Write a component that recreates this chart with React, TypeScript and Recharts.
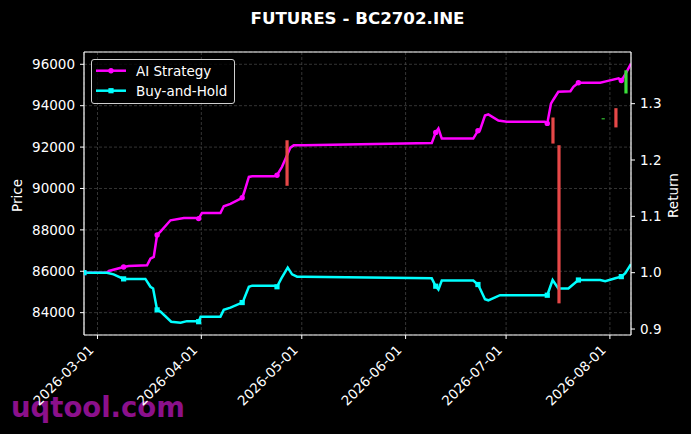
import React from 'react';
import { ComposedChart, Line, XAxis, YAxis, CartesianGrid, Legend, ReferenceLine } from 'recharts';

const FONT = '"DejaVu Sans", sans-serif';

// x values are days counted from 2026-03-01
const monthTickDays = [0, 31, 61, 92, 122, 153];
const monthTickLabels = ['2026-03-01', '2026-04-01', '2026-05-01', '2026-06-01', '2026-07-01', '2026-08-01'];
const xDomain = [-4.03, 159.3];

const priceTicks = [84000, 86000, 88000, 90000, 92000, 94000, 96000];
const priceDomain = [82921, 96594];
const returnTicks = [0.9, 1.0, 1.1, 1.2, 1.3];
const returnDomain = [0.8894, 1.3917];

const markDays = [-4.03, 7.8, 17.8, 30.2, 43.2, 53.6, 101.0, 113.6, 134.3, 143.6, 156.4];

const aiSeries: [number, number][] = [
  [-4.03, 1.0], [2.8, 1.0], [3.4, 1.003], [7.8, 1.01], [9.3, 1.012], [14.8, 1.013],
  [15.8, 1.025], [16.8, 1.028], [17.8, 1.067], [18.8, 1.073], [21.8, 1.093], [25.8, 1.097],
  [29.3, 1.097], [30.2, 1.096], [31.2, 1.106], [36.7, 1.106], [37.7, 1.118], [39.7, 1.122],
  [43.2, 1.133], [43.7, 1.141], [45.2, 1.17], [46.2, 1.171], [52.7, 1.171], [53.6, 1.173],
  [55.1, 1.188], [57.6, 1.222], [58.6, 1.226], [61.6, 1.226], [99.8, 1.23], [101.0, 1.249],
  [101.8, 1.256], [102.8, 1.238], [112.2, 1.238], [113.6, 1.252], [114.2, 1.253], [115.7, 1.279],
  [116.7, 1.281], [119.7, 1.27], [122.2, 1.268], [133.6, 1.268], [134.3, 1.265], [135.4, 1.3],
  [136.1, 1.307], [137.6, 1.321], [141.2, 1.322], [142.1, 1.33], [143.6, 1.337], [150.1, 1.337],
  [152.1, 1.34], [155.6, 1.345], [156.4, 1.341], [157.4, 1.35], [159.3, 1.371],
];

const bhSeries: [number, number][] = [
  [-4.03, 1.0], [2.8, 1.0], [4.8, 0.997], [7.8, 0.989], [8.8, 0.989], [14.3, 0.989],
  [15.8, 0.975], [16.6, 0.972], [17.8, 0.934], [18.8, 0.931], [22.0, 0.913], [24.8, 0.911],
  [26.7, 0.914], [29.6, 0.914], [30.2, 0.913], [30.8, 0.922], [36.7, 0.922], [37.7, 0.934],
  [39.7, 0.938], [43.2, 0.947], [43.6, 0.951], [45.2, 0.975], [46.2, 0.977], [52.7, 0.977],
  [53.6, 0.975], [54.9, 0.99], [56.8, 1.009], [58.1, 0.997], [59.6, 0.993], [61.6, 0.993],
  [99.8, 0.99], [101.0, 0.976], [101.8, 0.97], [102.8, 0.986], [112.2, 0.986], [113.6, 0.979],
  [114.2, 0.972], [115.7, 0.953], [116.7, 0.951], [120.2, 0.96], [122.2, 0.96], [134.3, 0.96],
  [135.9, 0.987], [137.6, 0.972], [140.6, 0.972], [143.6, 0.987], [150.1, 0.987], [151.6, 0.985],
  [154.6, 0.99], [156.4, 0.993], [157.6, 0.999], [159.3, 1.015],
];

// [day, open, close]
const candles: [number, number, number][] = [
  [56.6, 92330, 90130],
  [136.0, 93430, 92170],
  [137.8, 92090, 84450],
  [151.0, 93340, 93390],
  [154.8, 93880, 92950],
  [157.8, 94590, 95710],
];

const legendItems = [
  { name: 'AI Strategy', color: '#ff00ff', marker: 'circle' },
  { name: 'Buy-and-Hold', color: '#00ffff', marker: 'square' },
];

const AI_COLOR = '#ff00ff';
const BH_COLOR = '#00ffff';
const UP_COLOR = '#3be03b';
const DOWN_COLOR = '#e64848';

const aiData = aiSeries.map(([d, v]) => ({ d, v, m: markDays.includes(d) }));
const bhData = bhSeries.map(([d, v]) => ({ d, v, m: markDays.includes(d) }));
const candleData = candles.map(([d, o, c]) => ({
  color: c >= o ? UP_COLOR : DOWN_COLOR,
  pts: [{ d, p: o }, { d, p: c }],
}));

const aiDot = (p: any) =>
  p.payload && p.payload.m && p.cy != null ? (
    <circle key={`ai${p.index}`} cx={p.cx} cy={p.cy} r={2.7} fill={AI_COLOR} />
  ) : (
    <g key={`ai${p.index}`} />
  );

const bhDot = (p: any) =>
  p.payload && p.payload.m && p.cy != null ? (
    <rect key={`bh${p.index}`} x={p.cx - 2.6} y={p.cy - 2.6} width={5.2} height={5.2} fill={BH_COLOR} />
  ) : (
    <g key={`bh${p.index}`} />
  );

const XTick = (props: any) => {
  const { x, y, payload } = props;
  const i = monthTickDays.indexOf(payload.value);
  return (
    <text
      x={0}
      y={0}
      transform={`translate(${x - 3},${y + 10}) rotate(-45)`}
      textAnchor="end"
      fill="#ffffff"
      fontSize={13.5}
      fontFamily={FONT}
    >
      {i >= 0 ? monthTickLabels[i] : ''}
    </text>
  );
};

const axisTitle = (text: string, dx: number) => (props: any) => {
  const vb = props.viewBox || { x: 0, y: 0, width: 0, height: 0 };
  const cx = vb.x + dx;
  const cy = vb.y + vb.height / 2 + 2;
  return (
    <text
      x={cx}
      y={cy}
      transform={`rotate(-90, ${cx}, ${cy})`}
      textAnchor="middle"
      dominantBaseline="central"
      fill="#ffffff"
      fontSize={13.5}
      fontFamily={FONT}
    >
      {text}
    </text>
  );
};

const LegendBox = () => (
  <div
    style={{
      width: 144,
      height: 45,
      border: '1px solid #d0d0d0',
      borderRadius: 3,
      background: 'rgba(0,0,0,0.8)',
      boxSizing: 'border-box',
    }}
  >
    <svg width={142} height={43} style={{ display: 'block' }}>
      {legendItems.map((it, i) => {
        const y = 10.7 + i * 20;
        return (
          <g key={it.name}>
            <line x1={4} x2={34} y1={y} y2={y} stroke={it.color} strokeWidth={2.5} />
            {it.marker === 'circle' ? (
              <circle cx={19} cy={y} r={2.7} fill={it.color} />
            ) : (
              <rect x={16.4} y={y - 2.6} width={5.2} height={5.2} fill={it.color} />
            )}
            <text x={44} y={y} dy="0.36em" fill="#ffffff" fontSize={13.5} fontFamily={FONT}>
              {it.name}
            </text>
          </g>
        );
      })}
    </svg>
  </div>
);

export default function App() {
  return (
    <div
      style={{
        position: 'fixed',
        left: 0,
        top: 0,
        width: 691,
        height: 434,
        background: '#000000',
        fontFamily: FONT,
        overflow: 'hidden',
      }}
    >
      <svg width={691} height={434} style={{ position: 'absolute', left: 0, top: 0 }}>
        <text x={11} y={417} fontSize={27.5} fontWeight="bold" fill="#8b108b" fontFamily={FONT}>
          uqtool.com
        </text>
      </svg>
      <div style={{ position: 'absolute', left: 0, top: 0 }}>
        <ComposedChart width={691} height={434} margin={{ top: 52, right: 0, bottom: 0, left: 0 }}>
          <CartesianGrid
            yAxisId="price"
            stroke="#4a4a4a"
            strokeDasharray="3 2"
            strokeWidth={0.7}
            horizontalPoints={undefined}
          />
          <XAxis
            dataKey="d"
            type="number"
            domain={xDomain}
            ticks={monthTickDays}
            interval={0}
            height={99}
            tick={<XTick />}
            tickSize={4}
            stroke="#ffffff"
            axisLine={{ stroke: '#ffffff', strokeWidth: 1.2 }}
            tickLine={{ stroke: '#ffffff' }}
            allowDataOverflow
          />
          <YAxis
            yAxisId="price"
            orientation="left"
            type="number"
            domain={priceDomain}
            ticks={priceTicks}
            interval={0}
            width={84}
            tickSize={4}
            tickMargin={5}
            stroke="#ffffff"
            axisLine={{ stroke: '#ffffff', strokeWidth: 1.2 }}
            tick={{ fill: '#ffffff', fontSize: 13.5, fontFamily: FONT }}
            label={axisTitle('Price', 17)}
            allowDataOverflow
          />
          <YAxis
            yAxisId="ret"
            orientation="right"
            type="number"
            domain={returnDomain}
            ticks={returnTicks}
            interval={0}
            width={60}
            tickSize={4}
            tickMargin={5}
            stroke="#ffffff"
            axisLine={{ stroke: '#ffffff', strokeWidth: 1.2 }}
            tick={{ fill: '#ffffff', fontSize: 13.5, fontFamily: FONT }}
            tickFormatter={(v: number) => v.toFixed(1)}
            label={axisTitle('Return', 42)}
            allowDataOverflow
          />
          <ReferenceLine yAxisId="price" y={priceDomain[1]} stroke="#ffffff" strokeWidth={1.2} />
          <Line
            yAxisId="ret"
            data={aiData}
            dataKey="v"
            type="linear"
            stroke={AI_COLOR}
            strokeWidth={2.5}
            dot={aiDot}
            activeDot={false}
            isAnimationActive={false}
            name="AI Strategy"
          />
          <Line
            yAxisId="ret"
            data={bhData}
            dataKey="v"
            type="linear"
            stroke={BH_COLOR}
            strokeWidth={2.5}
            dot={bhDot}
            activeDot={false}
            isAnimationActive={false}
            name="Buy-and-Hold"
          />
          {candleData.map((c, i) => (
            <Line
              key={`candle${i}`}
              yAxisId="price"
              data={c.pts}
              dataKey="p"
              type="linear"
              stroke={c.color}
              strokeWidth={3.2}
              strokeLinecap="butt"
              dot={false}
              activeDot={false}
              isAnimationActive={false}
              legendType="none"
            />
          ))}
          <Legend
            layout="vertical"
            align="center"
            verticalAlign="middle"
            content={<LegendBox />}
            wrapperStyle={{ left: 91, top: 59, width: 144, height: 45 }}
          />
        </ComposedChart>
      </div>
      <svg width={691} height={434} style={{ position: 'absolute', left: 0, top: 0, pointerEvents: 'none' }}>
        <text
          x={357.5}
          y={24}
          textAnchor="middle"
          fontSize={16.7}
          fontWeight="bold"
          fill="#ffffff"
          fontFamily={FONT}
        >
          FUTURES - BC2702.INE
        </text>
      </svg>
    </div>
  );
}
